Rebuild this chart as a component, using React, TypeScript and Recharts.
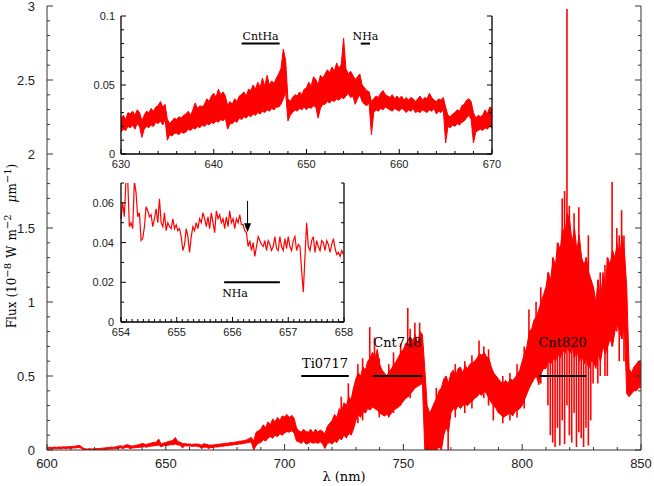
import { LineChart, ComposedChart, Line, Area, Bar, XAxis, YAxis, ReferenceLine } from 'recharts';

// main spectrum: dense part of the noise band, min / max per 1 nm bin, 600..850 nm
const mainStart = 600;
const mainStep = 1;
const mainLo = [
  0.006, 0.009, 0.007, 0.010, 0.008, 0.011, 0.009, 0.012, 0.010, 0.012,
  0.011, 0.014, 0.013, 0.017, 0.015, 0.004, 0.001, 0.000, 0.002, 0.000,
  0.001, 0.000, 0.003, 0.001, 0.004, 0.003, 0.007, 0.006, 0.008, 0.009,
  0.012, 0.015, 0.010, 0.017, 0.018, 0.009, 0.014, 0.015, 0.017, 0.018,
  0.021, 0.022, 0.019, 0.025, 0.026, 0.029, 0.030, 0.033, 0.022, 0.028,
  0.031, 0.032, 0.036, 0.036, 0.040, 0.034, 0.033, 0.014, 0.029, 0.027,
  0.027, 0.025, 0.026, 0.026, 0.024, 0.010, 0.019, 0.020, 0.010, 0.017,
  0.018, 0.021, 0.021, 0.025, 0.025, 0.029, 0.029, 0.033, 0.033, 0.037,
  0.037, 0.041, 0.041, 0.046, 0.047, 0.052, 0.054, 0.000, 0.030, 0.045,
  0.050, 0.070, 0.060, 0.080, 0.090, 0.080, 0.100, 0.090, 0.110, 0.100,
  0.115, 0.125, 0.120, 0.130, 0.115, 0.060, 0.055, 0.045, 0.060, 0.040,
  0.045, 0.055, 0.045, 0.050, 0.045, 0.055, 0.040, 0.010, 0.045, 0.050,
  0.040, 0.060, 0.050, 0.080, 0.070, 0.100, 0.080, 0.120, 0.100, 0.140,
  0.200, 0.240, 0.220, 0.260, 0.250, 0.280, 0.270, 0.290, 0.280, 0.270,
  0.250, 0.240, 0.230, 0.240, 0.230, 0.250, 0.270, 0.280, 0.290, 0.310,
  0.330, 0.350, 0.360, 0.380, 0.400, 0.420, 0.430, 0.440, 0.450, 0.000,
  0.000, 0.000, 0.000, 0.000, 0.000, 0.020, 0.000, 0.100, 0.150, 0.120,
  0.250, 0.280, 0.270, 0.300, 0.280, 0.300, 0.310, 0.300, 0.320, 0.330,
  0.350, 0.360, 0.380, 0.370, 0.400, 0.380, 0.350, 0.320, 0.300, 0.280,
  0.250, 0.240, 0.220, 0.230, 0.240, 0.250, 0.230, 0.260, 0.270, 0.280,
  0.300, 0.340, 0.380, 0.420, 0.450, 0.480, 0.500, 0.440, 0.520, 0.550,
  0.550, 0.600, 0.580, 0.620, 0.600, 0.650, 0.620, 0.680, 0.650, 0.700,
  0.650, 0.700, 0.620, 0.680, 0.600, 0.650, 0.580, 0.620, 0.550, 0.600,
  0.600, 0.550, 0.650, 0.600, 0.700, 0.650, 0.700, 0.750, 0.700, 0.800,
  0.850, 0.800, 0.750, 0.850, 0.380, 0.360, 0.380, 0.400, 0.400, 0.420,
  0.420,
];
const mainHi = [
  0.016, 0.019, 0.017, 0.020, 0.018, 0.021, 0.019, 0.022, 0.020, 0.023,
  0.022, 0.025, 0.026, 0.030, 0.028, 0.016, 0.008, 0.007, 0.009, 0.007,
  0.008, 0.010, 0.010, 0.012, 0.013, 0.016, 0.017, 0.020, 0.018, 0.022,
  0.026, 0.029, 0.024, 0.033, 0.036, 0.028, 0.027, 0.030, 0.034, 0.037,
  0.044, 0.040, 0.038, 0.044, 0.048, 0.051, 0.052, 0.074, 0.040, 0.047,
  0.050, 0.057, 0.060, 0.065, 0.085, 0.058, 0.053, 0.044, 0.043, 0.040,
  0.041, 0.038, 0.040, 0.040, 0.039, 0.032, 0.042, 0.039, 0.034, 0.033,
  0.034, 0.037, 0.038, 0.041, 0.042, 0.045, 0.046, 0.049, 0.050, 0.053,
  0.055, 0.059, 0.060, 0.065, 0.068, 0.076, 0.085, 0.060, 0.120, 0.130,
  0.140, 0.170, 0.150, 0.190, 0.170, 0.210, 0.190, 0.220, 0.200, 0.230,
  0.225, 0.240, 0.220, 0.235, 0.215, 0.150, 0.130, 0.120, 0.140, 0.125,
  0.120, 0.140, 0.115, 0.140, 0.120, 0.135, 0.125, 0.110, 0.160, 0.180,
  0.200, 0.240, 0.220, 0.280, 0.260, 0.320, 0.300, 0.360, 0.340, 0.420,
  0.480, 0.520, 0.500, 0.560, 0.540, 0.600, 0.620, 0.660, 0.620, 0.680,
  0.580, 0.540, 0.520, 0.500, 0.530, 0.550, 0.580, 0.600, 0.630, 0.660,
  0.680, 0.720, 0.700, 0.760, 0.740, 0.780, 0.720, 0.800, 0.780, 0.550,
  0.300, 0.250, 0.280, 0.320, 0.350, 0.400, 0.420, 0.480, 0.500, 0.450,
  0.520, 0.540, 0.500, 0.550, 0.560, 0.520, 0.570, 0.550, 0.580, 0.590,
  0.600, 0.620, 0.650, 0.640, 0.660, 0.630, 0.620, 0.560, 0.520, 0.500,
  0.480, 0.460, 0.450, 0.470, 0.450, 0.480, 0.470, 0.490, 0.510, 0.540,
  0.600, 0.650, 0.700, 0.800, 0.820, 0.880, 0.900, 0.950, 1.000, 1.050,
  1.100, 1.200, 1.150, 1.300, 1.250, 1.400, 1.350, 1.500, 1.450, 1.600,
  1.550, 1.400, 1.500, 1.350, 1.450, 1.300, 1.250, 1.300, 1.200, 1.150,
  1.100, 1.000, 1.150, 1.000, 1.200, 1.100, 1.300, 1.250, 1.350, 1.300,
  1.400, 1.300, 1.450, 1.350, 1.100, 0.550, 0.520, 0.560, 0.580, 0.600,
  0.600,
];
// single noise spikes reaching beyond the dense band: [nm, low, high]
const mainSpikes: [number, number, number][] = [
  [724, 0.07, 0.36], [727, 0.1, 0.45], [731, 0.18, 0.58], [733, 0.2, 0.62],
  [736, 0.27, 0.83], [738, 0.28, 0.76], [740, 0.22, 0.62], [744, 0.22, 0.58],
  [746, 0.25, 0.66], [749, 0.3, 0.72], [752, 0.36, 0.96], [753, 0.35, 0.82],
  [755, 0.42, 0.86], [757, 0.44, 0.86], [764, 0.0, 0.42], [769, 0.0, 0.45],
  [772, 0.22, 0.58], [776, 0.25, 0.6], [779, 0.28, 0.64], [782, 0.38, 0.74],
  [784, 0.35, 0.7], [786, 0.3, 0.68], [788, 0.2, 0.5], [792, 0.18, 0.5],
  [795, 0.2, 0.52], [798, 0.22, 0.58], [801, 0.28, 0.7], [803, 0.42, 0.95],
  [806, 0.5, 1.0], [808, 0.45, 1.1], [811, 0.3, 1.2], [812, 0.1, 1.15],
  [813, 0.05, 1.3], [814, 0.02, 1.25], [815, 0.15, 1.4], [816, 0.03, 1.35],
  [817, 0.2, 1.7], [818, 0.04, 1.75], [819, 0.3, 2.98], [820, 0.1, 1.65],
  [821, 0.05, 1.4], [822, 0.25, 1.6], [823, 0.02, 1.35], [824, 0.12, 1.64],
  [825, 0.08, 1.3], [826, 0.02, 1.25], [827, 0.15, 1.3], [828, 0.03, 1.45],
  [829, 0.2, 1.15], [830, 0.45, 1.1], [832, 0.45, 1.15], [833, 0.5, 1.2],
  [835, 0.5, 1.25], [836, 0.5, 1.3], [838, 0.7, 1.81], [840, 0.8, 1.5],
  [841, 0.6, 1.45], [842, 0.75, 1.62], [843, 0.6, 1.45],
];

// inset 1: 630..670 nm, min / max per 0.25 nm bin
const inset1Start = 630;
const inset1Step = 0.25;
const inset1Lo = [
  0.016, 0.018, 0.017, 0.020, 0.019, 0.021, 0.018, 0.022,
  0.020, 0.012, 0.018, 0.020, 0.019, 0.021, 0.020, 0.023,
  0.022, 0.024, 0.021, 0.025, 0.010, 0.014, 0.013, 0.015,
  0.015, 0.014, 0.016, 0.015, 0.016, 0.018, 0.017, 0.019,
  0.018, 0.020, 0.019, 0.021, 0.020, 0.022, 0.021, 0.023,
  0.022, 0.024, 0.023, 0.025, 0.024, 0.026, 0.018, 0.022,
  0.022, 0.024, 0.023, 0.026, 0.025, 0.027, 0.026, 0.028,
  0.027, 0.029, 0.028, 0.030, 0.029, 0.031, 0.030, 0.032,
  0.031, 0.033, 0.032, 0.034, 0.034, 0.036, 0.040, 0.045,
  0.024, 0.028, 0.030, 0.032, 0.031, 0.033, 0.032, 0.034,
  0.032, 0.034, 0.033, 0.035, 0.034, 0.026, 0.033, 0.036,
  0.036, 0.038, 0.037, 0.039, 0.038, 0.040, 0.039, 0.041,
  0.040, 0.042, 0.044, 0.041, 0.042, 0.036, 0.040, 0.043,
  0.038, 0.036, 0.035, 0.037, 0.014, 0.030, 0.032, 0.031,
  0.033, 0.032, 0.034, 0.033, 0.032, 0.031, 0.033, 0.032,
  0.031, 0.033, 0.032, 0.030, 0.032, 0.031, 0.033, 0.030,
  0.031, 0.030, 0.032, 0.031, 0.030, 0.032, 0.031, 0.033,
  0.029, 0.031, 0.030, 0.032, 0.008, 0.020, 0.019, 0.021,
  0.020, 0.022, 0.021, 0.023, 0.024, 0.026, 0.028, 0.025,
  0.008, 0.016, 0.017, 0.018, 0.017, 0.019, 0.018, 0.020,
  0.019,
];
const inset1Hi = [
  0.026, 0.028, 0.025, 0.030, 0.029, 0.031, 0.028, 0.032,
  0.030, 0.024, 0.028, 0.031, 0.030, 0.033, 0.031, 0.034,
  0.035, 0.038, 0.034, 0.036, 0.025, 0.022, 0.024, 0.026,
  0.025, 0.027, 0.026, 0.028, 0.029, 0.031, 0.028, 0.032,
  0.037, 0.033, 0.035, 0.034, 0.036, 0.040, 0.038, 0.042,
  0.044, 0.041, 0.047, 0.043, 0.045, 0.042, 0.035, 0.038,
  0.036, 0.040, 0.038, 0.042, 0.043, 0.045, 0.042, 0.047,
  0.046, 0.050, 0.047, 0.052, 0.048, 0.055, 0.049, 0.057,
  0.050, 0.053, 0.051, 0.055, 0.058, 0.062, 0.076, 0.068,
  0.040, 0.038, 0.041, 0.043, 0.042, 0.045, 0.043, 0.047,
  0.048, 0.052, 0.049, 0.056, 0.054, 0.050, 0.057, 0.055,
  0.058, 0.061, 0.059, 0.063, 0.060, 0.066, 0.062, 0.065,
  0.084, 0.062, 0.058, 0.060, 0.057, 0.054, 0.056, 0.058,
  0.050, 0.048, 0.046, 0.045, 0.038, 0.040, 0.042, 0.041,
  0.044, 0.046, 0.043, 0.042, 0.041, 0.043, 0.040, 0.042,
  0.040, 0.042, 0.039, 0.041, 0.039, 0.041, 0.040, 0.038,
  0.040, 0.042, 0.039, 0.041, 0.040, 0.044, 0.041, 0.039,
  0.038, 0.040, 0.039, 0.041, 0.034, 0.028, 0.027, 0.029,
  0.030, 0.032, 0.031, 0.035, 0.036, 0.039, 0.040, 0.038,
  0.030, 0.026, 0.028, 0.027, 0.028, 0.032, 0.029, 0.034,
  0.033,
];

// inset 2: 654..658 nm, sampled every 0.03 nm
const inset2Start = 654;
const inset2Step = 0.03;
const inset2Flux = [
  0.052, 0.060, 0.053, 0.072, 0.072, 0.048, 0.050, 0.047, 0.071, 0.065,
  0.053, 0.055, 0.041, 0.042, 0.048, 0.058, 0.056, 0.053, 0.054, 0.048,
  0.052, 0.057, 0.050, 0.062, 0.050, 0.048, 0.055, 0.046, 0.050, 0.048,
  0.047, 0.052, 0.047, 0.049, 0.046, 0.047, 0.043, 0.036, 0.039, 0.047,
  0.043, 0.035, 0.043, 0.048, 0.046, 0.050, 0.047, 0.052, 0.050, 0.055,
  0.052, 0.048, 0.053, 0.047, 0.055, 0.050, 0.045, 0.056, 0.052, 0.054,
  0.050, 0.052, 0.047, 0.053, 0.048, 0.056, 0.050, 0.052, 0.047, 0.052,
  0.050, 0.054, 0.049, 0.049, 0.046, 0.045, 0.038, 0.041, 0.036, 0.040,
  0.033, 0.038, 0.043, 0.041, 0.039, 0.038, 0.041, 0.036, 0.041, 0.039,
  0.036, 0.038, 0.043, 0.037, 0.036, 0.043, 0.038, 0.036, 0.042, 0.037,
  0.043, 0.038, 0.036, 0.041, 0.043, 0.036, 0.039, 0.038, 0.026, 0.015,
  0.033, 0.050, 0.038, 0.036, 0.041, 0.043, 0.035, 0.041, 0.038, 0.036,
  0.041, 0.040, 0.036, 0.041, 0.039, 0.035, 0.039, 0.042, 0.037, 0.034,
  0.035, 0.033, 0.036, 0.034,
];

// marked wavelength ranges
const mainBands = [
  { name: 'Ti0717', from: 707, to: 727, level: 0.5 },
  { name: 'Cnt748', from: 737, to: 758, level: 0.5 },
  { name: 'Cnt820', from: 807, to: 827, level: 0.5 },
];
const inset1Bands = [
  { name: 'CntHa', from: 643, to: 647.1, level: 0.08 },
  { name: 'NHa', from: 655.85, to: 656.85, level: 0.08 },
];
const inset2Band = { name: 'NHa', from: 655.85, to: 656.85, level: 0.02 };
const inset2Arrow = { lam: 656.27, from: 0.061, to: 0.0452 };

const mainData = mainLo.map((lo, i) => {
  const lam = mainStart + i * mainStep;
  const s = mainSpikes.find((sp) => sp[0] === lam);
  return { lam, hi: mainHi[i], band: [lo, mainHi[i]], spike: s ? [s[1], s[2]] : null };
});
const inset1Data = inset1Lo.map((lo, i) => ({
  lam: inset1Start + i * inset1Step,
  hi: inset1Hi[i],
  band: [lo, inset1Hi[i]],
}));
const inset2Data = inset2Flux.map((f, i) => ({ lam: inset2Start + i * inset2Step, flux: f }));

const steps = (a: number, b: number, s: number) => {
  const out: number[] = [];
  for (let v = a; v <= b + s / 1000; v += s) out.push(Math.round(v * 1000) / 1000);
  return out;
};

const SANS = '"Liberation Sans", Arial, sans-serif';
const SERIF = '"DejaVu Serif", serif';
const RED = '#ff0000';

const onStep = (v: number, s: number) => Math.abs(v / s - Math.round(v / s)) < 1e-6;

function tickFactory(opts: {
  side: 'left' | 'right' | 'top' | 'bottom';
  majorStep: number;
  majorLen: number;
  minorLen: number;
  fmt?: (v: number) => string;
  fontSize?: number;
  gap?: number;
  color: string;
}) {
  return (props: any) => {
    const { x, y, payload } = props;
    const v = payload.value;
    const major = onStep(v, opts.majorStep);
    const len = major ? opts.majorLen : opts.minorLen;
    let line = null;
    if (opts.side === 'left') line = <line x1={x} y1={y} x2={x + len} y2={y} />;
    if (opts.side === 'right') line = <line x1={x} y1={y} x2={x - len} y2={y} />;
    if (opts.side === 'top') line = <line x1={x} y1={y} x2={x} y2={y + len} />;
    if (opts.side === 'bottom') line = <line x1={x} y1={y} x2={x} y2={y - len} />;
    let label = null;
    if (major && opts.fmt) {
      const fs = opts.fontSize || 12;
      if (opts.side === 'left') {
        label = (
          <text x={x - (opts.gap || 8)} y={y + fs * 0.36} textAnchor="end" fontSize={fs} fontFamily={SANS} fill="#222" stroke="none">
            {opts.fmt(v)}
          </text>
        );
      } else {
        label = (
          <text x={x} y={y + (opts.gap || 14)} textAnchor="middle" fontSize={fs} fontFamily={SANS} fill="#222" stroke="none">
            {opts.fmt(v)}
          </text>
        );
      }
    }
    return (
      <g stroke={opts.color} strokeWidth={1}>
        {line}
        {label}
      </g>
    );
  };
}

const fmtInt = (v: number) => String(Math.round(v));
const fmtDec = (d: number) => (v: number) => String(Number(v.toFixed(d)));

function Axes(p: {
  xDomain: [number, number];
  yDomain: [number, number];
  xTicks: number[];
  yTicks: number[];
  xMajor: number;
  yMajor: number;
  yWidth: number;
  rWidth: number;
  xHeight: number;
  majorLen: number;
  minorLen: number;
  fontSize: number;
  xGap: number;
  yGap: number;
  yFmt: (v: number) => string;
  color: string;
  strokeWidth: number;
}) {
  const axisLine = { stroke: p.color, strokeWidth: p.strokeWidth };
  const common = { tickLine: false, tickSize: 0, tickMargin: 0, interval: 0 as const };
  return [
    <XAxis
      key="xb"
      xAxisId="b"
      dataKey="lam"
      type="number"
      domain={p.xDomain}
      ticks={p.xTicks}
      height={p.xHeight}
      axisLine={axisLine}
      {...common}
      tick={tickFactory({ side: 'bottom', majorStep: p.xMajor, majorLen: p.majorLen, minorLen: p.minorLen, fmt: fmtInt, fontSize: p.fontSize, gap: p.xGap, color: p.color })}
    />,
    <XAxis
      key="xt"
      xAxisId="t"
      orientation="top"
      dataKey="lam"
      type="number"
      domain={p.xDomain}
      ticks={p.xTicks}
      height={0}
      axisLine={axisLine}
      {...common}
      tick={tickFactory({ side: 'top', majorStep: p.xMajor, majorLen: p.majorLen, minorLen: p.minorLen, color: p.color })}
    />,
    <YAxis
      key="yl"
      yAxisId="l"
      type="number"
      domain={p.yDomain}
      ticks={p.yTicks}
      width={p.yWidth}
      allowDataOverflow
      axisLine={axisLine}
      {...common}
      tick={tickFactory({ side: 'left', majorStep: p.yMajor, majorLen: p.majorLen, minorLen: p.minorLen, fmt: p.yFmt, fontSize: p.fontSize, gap: p.yGap, color: p.color })}
    />,
    <YAxis
      key="yr"
      yAxisId="r"
      orientation="right"
      type="number"
      domain={p.yDomain}
      ticks={p.yTicks}
      width={p.rWidth}
      allowDataOverflow
      axisLine={axisLine}
      {...common}
      tick={tickFactory({ side: 'right', majorStep: p.yMajor, majorLen: p.majorLen, minorLen: p.minorLen, color: p.color })}
    />,
  ];
}

const bandLabelOffset: Record<string, number> = { Ti0717: 8, Cnt748: 29, Cnt820: 29, CntHa: 4, NHa: 4 };

const ArrowShape = (props: any) => {
  const { x1, y1, x2, y2 } = props;
  const top = Math.min(y1, y2);
  const tip = Math.max(y1, y2);
  const x = (x1 + x2) / 2;
  return (
    <g>
      <line x1={x} y1={top} x2={x} y2={tip - 6} stroke="#000" strokeWidth={1} />
      <polygon points={`${x - 3.5},${tip - 9} ${x + 3.5},${tip - 9} ${x},${tip}`} fill="#000" />
    </g>
  );
};

export default function App() {
  return (
    <div style={{ position: 'absolute', left: 0, top: 0, width: 654, height: 486, background: '#fff' }}>
      {/* main spectrum */}
      <div style={{ position: 'absolute', left: 0, top: 0 }}>
        <ComposedChart width={654} height={486} data={mainData} margin={{ top: 6, right: 0, bottom: 0, left: 0 }}>
          {Axes({
            xDomain: [600, 850],
            yDomain: [0, 3],
            xTicks: steps(600, 850, 10),
            yTicks: steps(0, 3, 0.1),
            xMajor: 50,
            yMajor: 0.5,
            yWidth: 47,
            rWidth: 13,
            xHeight: 36,
            majorLen: 6,
            minorLen: 3,
            fontSize: 13,
            xGap: 18,
            yGap: 12,
            yFmt: fmtDec(1),
            color: '#333',
            strokeWidth: 1,
          })}
          <Area
            xAxisId="b"
            yAxisId="l"
            dataKey="band"
            type="linear"
            stroke={RED}
            strokeWidth={1}
            fill={RED}
            fillOpacity={1}
            dot={false}
            activeDot={false}
            isAnimationActive={false}
          />
          <Bar xAxisId="b" yAxisId="l" dataKey="spike" fill={RED} barSize={1.6} isAnimationActive={false} />
          <Line xAxisId="t" yAxisId="r" dataKey="hi" stroke="none" dot={false} activeDot={false} isAnimationActive={false} />
          {mainBands.map((b) => (
            <ReferenceLine
              key={b.name}
              xAxisId="b"
              yAxisId="l"
              segment={[
                { x: b.from, y: b.level },
                { x: b.to, y: b.level },
              ]}
              stroke="#000"
              strokeWidth={2}
              label={{
                value: b.name,
                position: 'top',
                offset: bandLabelOffset[b.name],
                fill: '#000',
                fontSize: 13,
                fontFamily: SERIF,
              }}
            />
          ))}
        </ComposedChart>
      </div>

      {/* inset 1 */}
      <div style={{ position: 'absolute', left: 81, top: 10 }}>
        <ComposedChart width={427} height={164} data={inset1Data} margin={{ top: 6, right: 0, bottom: 0, left: 0 }}>
          {Axes({
            xDomain: [630, 670],
            yDomain: [0, 0.1],
            xTicks: steps(630, 670, 2),
            yTicks: steps(0, 0.1, 0.01),
            xMajor: 10,
            yMajor: 0.05,
            yWidth: 40,
            rWidth: 16,
            xHeight: 20,
            majorLen: 5,
            minorLen: 3,
            fontSize: 11,
            xGap: 14,
            yGap: 6,
            yFmt: fmtDec(2),
            color: '#000',
            strokeWidth: 1.3,
          })}
          <Area
            xAxisId="b"
            yAxisId="l"
            dataKey="band"
            type="linear"
            stroke={RED}
            strokeWidth={1}
            fill={RED}
            fillOpacity={1}
            dot={false}
            activeDot={false}
            isAnimationActive={false}
          />
          <Line xAxisId="t" yAxisId="r" dataKey="hi" stroke="none" dot={false} activeDot={false} isAnimationActive={false} />
          {inset1Bands.map((b) => (
            <ReferenceLine
              key={b.name}
              xAxisId="b"
              yAxisId="l"
              segment={[
                { x: b.from, y: b.level },
                { x: b.to, y: b.level },
              ]}
              stroke="#000"
              strokeWidth={2}
              label={{
                value: b.name,
                position: 'top',
                offset: bandLabelOffset[b.name],
                fill: '#000',
                fontSize: 11,
                fontFamily: SERIF,
              }}
            />
          ))}
        </ComposedChart>
      </div>

      {/* inset 2 */}
      <div style={{ position: 'absolute', left: 81, top: 177 }}>
        <LineChart width={279} height={165} data={inset2Data} margin={{ top: 6, right: 0, bottom: 0, left: 0 }}>
          {Axes({
            xDomain: [654, 658],
            yDomain: [0, 0.07],
            xTicks: steps(654, 658, 0.1),
            yTicks: steps(0, 0.07, 0.01),
            xMajor: 1,
            yMajor: 0.02,
            yWidth: 40,
            rWidth: 16,
            xHeight: 20,
            majorLen: 5,
            minorLen: 3,
            fontSize: 11,
            xGap: 14,
            yGap: 7,
            yFmt: fmtDec(2),
            color: '#000',
            strokeWidth: 1.3,
          })}
          <Line
            xAxisId="b"
            yAxisId="l"
            dataKey="flux"
            type="linear"
            stroke={RED}
            strokeWidth={1.2}
            dot={false}
            activeDot={false}
            isAnimationActive={false}
          />
          <Line xAxisId="t" yAxisId="r" dataKey="flux" stroke="none" dot={false} activeDot={false} isAnimationActive={false} />
          <ReferenceLine
            xAxisId="b"
            yAxisId="l"
            segment={[
              { x: inset2Band.from, y: inset2Band.level },
              { x: inset2Band.to, y: inset2Band.level },
            ]}
            stroke="#000"
            strokeWidth={2}
            label={(lp: any) => (
              <text x={lp.viewBox.x - 2} y={lp.viewBox.y + 15} fontSize={11} fontFamily={SERIF} fill="#000">
                {inset2Band.name}
              </text>
            )}
          />
          <ReferenceLine
            xAxisId="b"
            yAxisId="l"
            segment={[
              { x: inset2Arrow.lam, y: inset2Arrow.from },
              { x: inset2Arrow.lam, y: inset2Arrow.to },
            ]}
            shape={ArrowShape}
          />
        </LineChart>
      </div>

      {/* axis titles */}
      <svg width={654} height={486} style={{ position: 'absolute', left: 0, top: 0, pointerEvents: 'none' }}>
        <text x={344} y={481} textAnchor="middle" fontSize={13} fontFamily={SERIF} fill="#000">
          λ (nm)
        </text>
        <text transform="translate(16,246) rotate(-90)" textAnchor="middle" fontSize={12} fontFamily={SERIF} fill="#000">
          <tspan>Flux</tspan>
          <tspan dx={4}>(10</tspan>
          <tspan dy={-5} fontSize={10}>−8</tspan>
          <tspan dy={5} dx={5}>W</tspan>
          <tspan dx={5}>m</tspan>
          <tspan dy={-5} fontSize={10}>−2</tspan>
          <tspan dy={5} dx={12} fontStyle="italic">μ</tspan>
          <tspan>m</tspan>
          <tspan dy={-5} fontSize={10}>−1</tspan>
          <tspan dy={5}>)</tspan>
        </text>
      </svg>
    </div>
  );
}
